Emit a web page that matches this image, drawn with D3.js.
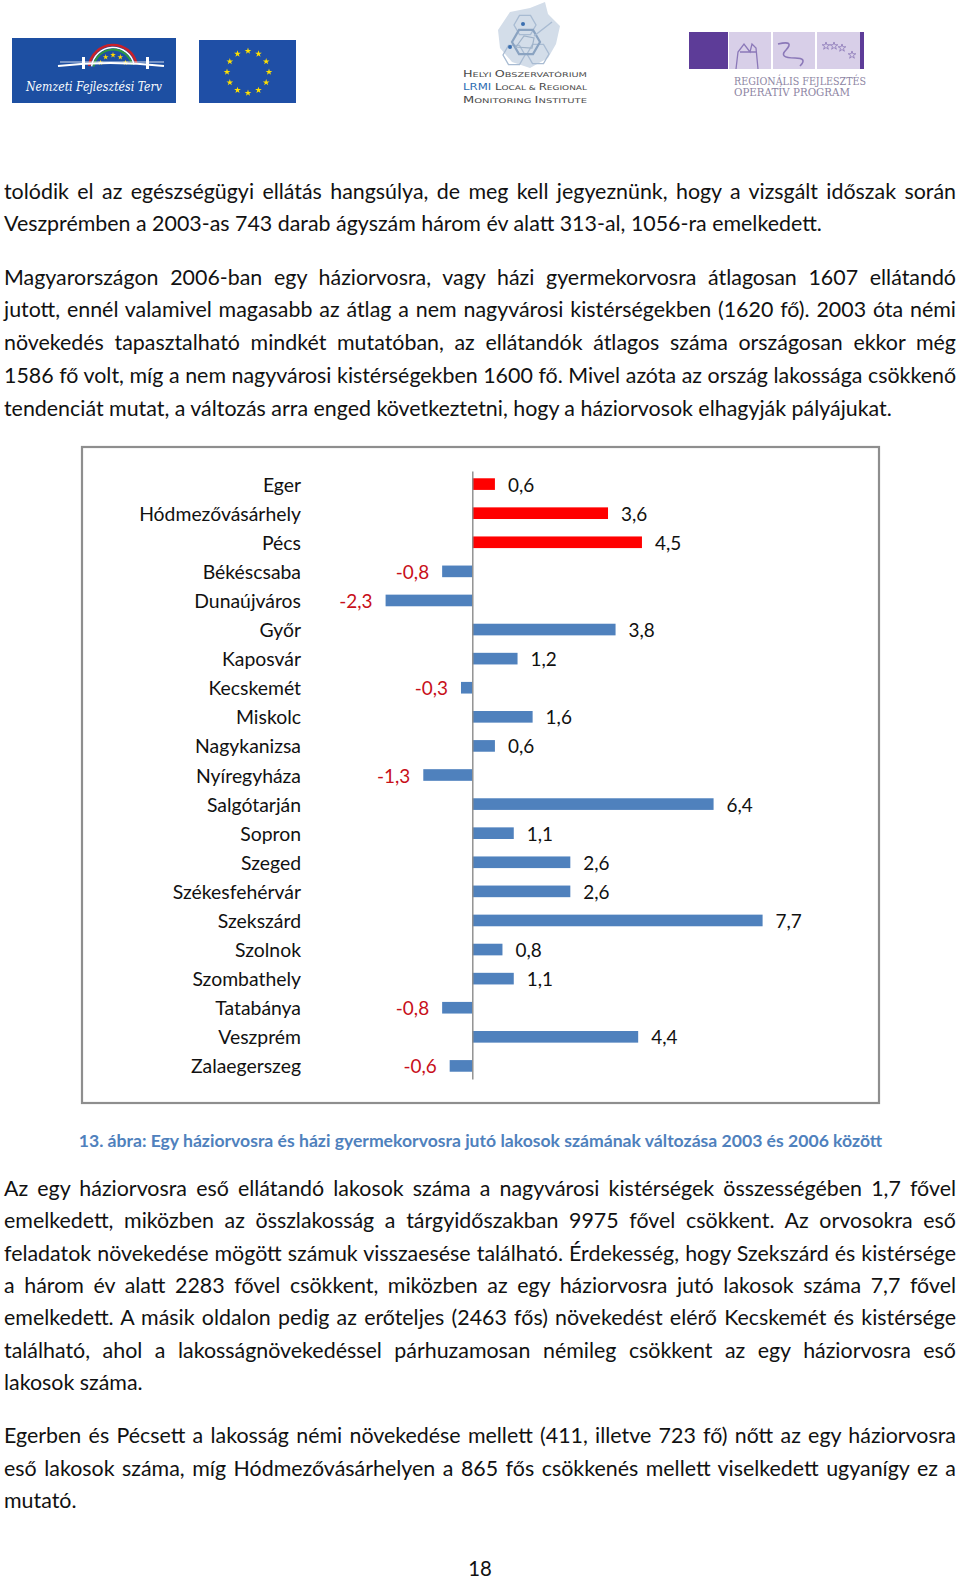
<!DOCTYPE html>
<html><head><meta charset="utf-8">
<script src="https://cdn.jsdelivr.net/npm/d3@7"></script>
<style>
html,body{margin:0;padding:0;background:#fff;}
body{width:960px;height:1582px;position:relative;overflow:hidden;color:#111;font-family:Lato,"Open Sans",sans-serif;}
.line{position:absolute;left:4px;width:952px;white-space:nowrap;}
</style></head><body>
<svg id="page" width="960" height="1582" style="position:absolute;left:0;top:0"></svg>
<div id="text"></div>
<script>
// ---------------- data ----------------
const cities = ["Eger","Hódmezővásárhely","Pécs","Békéscsaba","Dunaújváros","Győr","Kaposvár","Kecskemét","Miskolc","Nagykanizsa","Nyíregyháza","Salgótarján","Sopron","Szeged","Székesfehérvár","Szekszárd","Szolnok","Szombathely","Tatabánya","Veszprém","Zalaegerszeg"];
const values = [0.6,3.6,4.5,-0.8,-2.3,3.8,1.2,-0.3,1.6,0.6,-1.3,6.4,1.1,2.6,2.6,7.7,0.8,1.1,-0.8,4.4,-0.6];
const highlighted = ["Eger","Hódmezővásárhely","Pécs"];
const caption = "13. ábra: Egy háziorvosra és házi gyermekorvosra jutó lakosok számának változása 2003 és 2006 között";
const para1 = ["tolódik el az egészségügyi ellátás hangsúlya, de meg kell jegyeznünk, hogy a vizsgált időszak során",
"Veszprémben a 2003-as 743 darab ágyszám három év alatt 313-al, 1056-ra emelkedett."];
const para2 = ["Magyarországon 2006-ban egy háziorvosra, vagy házi gyermekorvosra átlagosan 1607 ellátandó",
"jutott, ennél valamivel magasabb az átlag a nem nagyvárosi kistérségekben (1620 fő). 2003 óta némi",
"növekedés tapasztalható mindkét mutatóban, az ellátandók átlagos száma országosan ekkor még",
"1586 fő volt, míg a nem nagyvárosi kistérségekben 1600 fő. Mivel azóta az ország lakossága csökkenő",
"tendenciát mutat, a változás arra enged következtetni, hogy a háziorvosok elhagyják pályájukat."];
const para3 = ["Az egy háziorvosra eső ellátandó lakosok száma a nagyvárosi kistérségek összességében 1,7 fővel",
"emelkedett, miközben az összlakosság a tárgyidőszakban 9975 fővel csökkent. Az orvosokra eső",
"feladatok növekedése mögött számuk visszaesése található. Érdekesség, hogy Szekszárd és kistérsége",
"a három év alatt 2283 fővel csökkent, miközben az egy háziorvosra jutó lakosok száma 7,7 fővel",
"emelkedett. A másik oldalon pedig az erőteljes (2463 fős) növekedést elérő Kecskemét és kistérsége",
"található, ahol a lakosságnövekedéssel párhuzamosan némileg csökkent az egy háziorvosra eső",
"lakosok száma."];
const para4 = ["Egerben és Pécsett a lakosság némi növekedése mellett (411, illetve 723 fő) nőtt az egy háziorvosra",
"eső lakosok száma, míg Hódmezővásárhelyen a 865 fős csökkenés mellett viselkedett ugyanígy ez a",
"mutató."];
const pageNumber = "18";

// ---------------- helpers ----------------
const FONT = "Lato";
const cv = document.createElement("canvas").getContext("2d");
function tw(t, size, weight="normal", style="normal", fam=FONT){ cv.font = `${style} ${weight} ${size}px ${fam}`; return cv.measureText(t).width; }
function fit(t, target, weight="normal"){ return 20*target/tw(t,20,weight); }

const svg = d3.select("#page");

// ---------------- body text ----------------
const bodySize = fit(para1[1], 819);
const LH = 30;
function paragraph(lines, y0, step){
  lines.forEach((t,i)=>{
    const last = i===lines.length-1;
    const cy = y0 + i*step;
    const w = tw(t, bodySize);
    let ls = 0;
    if(!last && w > 950) ls = (950 - w)/t.length;
    d3.select("#text").append("div").attr("class","line")
      .style("top", (cy - LH/2 - 0.134*bodySize + 3)+"px")
      .style("line-height", LH+"px")
      .style("font-size", bodySize+"px")
      .style("letter-spacing", ls+"px")
      .style("text-align", last ? "left" : "justify")
      .style("text-align-last", last ? "left" : "justify")
      .text(t);
  });
}
paragraph(para1, 190.7, 32.4);
paragraph(para2, 276.4, 32.8);
paragraph(para3, 1187.5, 32.45);
paragraph(para4, 1434.7, 32.75);

// caption
const capSize = fit(caption, 805, "bold");
svg.append("text").attr("x", 480.5).attr("y", 1140).attr("text-anchor","middle")
  .attr("dominant-baseline","central").attr("font-family",FONT).attr("font-weight","bold")
  .attr("font-size", capSize).attr("fill","#4F81BD").text(caption);
// page number
svg.append("text").attr("x", 480).attr("y", 1568).attr("text-anchor","middle")
  .attr("dominant-baseline","central").attr("font-family",FONT).attr("font-size", bodySize*0.95)
  .attr("fill","#111").text(pageNumber);

// ---------------- chart ----------------
svg.append("rect").attr("x",82).attr("y",447).attr("width",797).attr("height",656)
  .attr("fill","#fff").attr("stroke","#8e8e8e").attr("stroke-width",2.2);

const zeroX = 472.3, unit = 37.7;
const x = d3.scaleLinear().domain([-3, 9]).range([zeroX - 3*unit, zeroX + 9*unit]);
const y = d3.scaleBand().domain(cities).range([471, 1079]).paddingInner(0.6).paddingOuter(0.25);

const catSize = fit("Hódmezővásárhely", 162);
const valSize = fit("-2,3", 33.3);

const g = svg.append("g");
g.selectAll("rect.bar").data(cities).join("rect").attr("class","bar")
  .attr("x", (d,i)=> x(Math.min(0, values[i])))
  .attr("width", (d,i)=> Math.abs(x(values[i]) - x(0)))
  .attr("y", d=> y(d)).attr("height", y.bandwidth())
  .attr("fill", d=> highlighted.includes(d) ? "#FF0000" : "#4F81BD");

// axis (category axis at zero)
const axis = d3.axisLeft(y).tickSize(0).tickFormat("");
const ax = g.append("g").attr("transform",`translate(${x(0)},0)`).call(axis);
ax.select(".domain").attr("stroke","#8a8a8a").attr("stroke-width",1.4);

// category labels
g.selectAll("text.cat").data(cities).join("text").attr("class","cat")
  .attr("x", 301).attr("y", d=> y(d)+y.bandwidth()/2)
  .attr("text-anchor","end").attr("dominant-baseline","central")
  .attr("font-family",FONT).attr("font-size",catSize).attr("fill","#111").text(d=>d);

// value labels
const fmt = v => String(v).replace(".", ",").replace(/^(-?\d+)$/, "$1,0");
g.selectAll("text.val").data(cities).join("text").attr("class","val")
  .attr("x", (d,i)=> values[i] >= 0 ? x(values[i]) + 13 : x(values[i]) - 13)
  .attr("y", d=> y(d)+y.bandwidth()/2)
  .attr("text-anchor", (d,i)=> values[i] >= 0 ? "start" : "end")
  .attr("dominant-baseline","central")
  .attr("font-family",FONT).attr("font-size",valSize)
  .attr("fill", (d,i)=> values[i] >= 0 ? "#111" : "#C8101A")
  .text((d,i)=> fmt(values[i]));

// ---------------- logos ----------------
// Nemzeti Fejlesztési Terv
const l1 = svg.append("g");
l1.append("rect").attr("x",12).attr("y",38).attr("width",164).attr("height",65).attr("fill","#1d4fa2");
const arc = d3.arc();
[["#c8202a",24,2.6],["#ffffff",21.5,1.5],["#2f9a3e",19.5,1.8]].forEach(([c,r,w])=>{
  l1.append("path").attr("transform","translate(113,69)")
    .attr("d", arc({innerRadius:r-w/2, outerRadius:r+w/2, startAngle:-1.45, endAngle:1.35})).attr("fill",c);
});
const star = d3.symbol().type(d3.symbolStar);
d3.range(5).forEach(i=>{
  const a = -1.1 + i*0.55;
  l1.append("path").attr("d", star.size(10)()).attr("fill","#ffd800")
    .attr("transform",`translate(${113+14*Math.sin(a)},${69-14*Math.cos(a)})`);
});
l1.append("path").attr("d","M58,66 Q110,60 164,66").attr("stroke","#fff").attr("stroke-width",2).attr("fill","none");
l1.append("path").attr("d","M60,62 L164,62").attr("stroke","#fff").attr("stroke-width",0.8).attr("fill","none");
[82,146].forEach(xx=> l1.append("rect").attr("x",xx).attr("y",57).attr("width",3).attr("height",12).attr("fill","#fff"));
l1.append("text").attr("x",26).attr("y",91).attr("font-family","DejaVu Serif").attr("font-style","italic")
  .attr("font-size",12).attr("fill","#fff").attr("textLength",136).attr("lengthAdjust","spacingAndGlyphs").text("Nemzeti Fejlesztési Terv");

// EU flag
const eu = svg.append("g");
eu.append("rect").attr("x",199).attr("y",40).attr("width",97).attr("height",63).attr("fill","#1f4fa6");
d3.range(12).forEach(i=>{
  const a = i*Math.PI/6;
  eu.append("path").attr("d", star.size(14)()).attr("fill","#ffe000")
    .attr("transform",`translate(${248+21*Math.sin(a)},${72-21*Math.cos(a)})`);
});

// LRMI logo
const lr = svg.append("g");
lr.append("path").attr("d","M498,30 L510,12 L530,8 L545,2 L548,14 L560,26 L556,44 L548,58 L530,68 L512,62 L500,48 Z").attr("fill","#d3dde9");
const hex = (cx,cy,r)=> d3.range(6).map(k=>{const a=Math.PI/3*k; return [cx+r*Math.cos(a), cy+r*Math.sin(a)];});
const line = d3.line().curve(d3.curveLinearClosed);
[[525,25,11],[514,55,11],[538,54,11]].forEach(([cx,cy,r])=>
  lr.append("path").attr("d", line(hex(cx,cy,r))).attr("fill","none").attr("stroke","#a8bbd2").attr("stroke-width",1.3));
lr.append("path").attr("d", line(hex(526,42,14))).attr("fill","none").attr("stroke","#8aa3c1").attr("stroke-width",2.2);
lr.append("path").attr("d","M516,47 L524,36 L534,38 L532,48 Z").attr("fill","none").attr("stroke","#9fb2c8").attr("stroke-width",1.2);
lr.append("path").attr("d","M534,36 L552,22").attr("stroke","#a8bbd2").attr("stroke-width",1.5);
[[523,24],[510,47]].forEach(([cx,cy])=> lr.append("circle").attr("cx",cx).attr("cy",cy).attr("r",2).attr("fill","#3b6fb0"));
const lt = [[["H","ELYI "],["O","BSZERVATÓRIUM"]],[["LRMI","",1],[" L","OCAL & "],["R","EGIONAL"]],[["M","ONITORING "],["I","NSTITUTE"]]];
lt.forEach((parts,i)=>{
  const t = lr.append("text").attr("x",463).attr("y",77+i*13).attr("font-family","DejaVu Sans")
    .attr("font-size",8.5).attr("fill","#4a4a4a").attr("textLength",124).attr("lengthAdjust","spacingAndGlyphs");
  parts.forEach(p=>{
    t.append("tspan").attr("fill", p[2] ? "#2d6db3" : "#4a4a4a").text(p[0]);
    if(p[1]) t.append("tspan").attr("font-size",6.5).attr("fill","#4a4a4a").text(p[1]);
  });
});

// Regionális Fejlesztés OP logo
const rf = svg.append("g");
rf.append("rect").attr("x",689).attr("y",32).attr("width",39).attr("height",37).attr("fill","#5d3c98");
[[729,42],[773,42],[817,43]].forEach(([xx,w])=> rf.append("rect").attr("x",xx).attr("y",32).attr("width",w).attr("height",37).attr("fill","#d8cfe8"));
rf.append("rect").attr("x",860).attr("y",32).attr("width",4).attr("height",37).attr("fill","#5d3c98");
rf.append("path").attr("d","M736,69 L738,52 L744,44 L750,52 L752,44 L756,48 L758,69 M740,52 L756,52").attr("stroke","#8b78b8").attr("fill","none").attr("stroke-width",1.3);
rf.append("path").attr("d","M778,44 Q795,40 786,50 Q778,58 795,58 Q808,58 800,66").attr("stroke","#8b78b8").attr("fill","none").attr("stroke-width",1.6);
[[826,46],[834,46],[842,48],[852,55]].forEach(([cx,cy])=> rf.append("path").attr("d",star.size(18)()).attr("fill","none").attr("stroke","#8b78b8").attr("stroke-width",0.8).attr("transform",`translate(${cx},${cy})`));
rf.append("text").attr("x",734).attr("y",85).attr("font-family","DejaVu Serif").attr("font-size",10.5)
  .attr("fill","#8d85a3").attr("textLength",132).attr("lengthAdjust","spacingAndGlyphs").text("REGIONÁLIS FEJLESZTÉS");
rf.append("text").attr("x",734).attr("y",96).attr("font-family","DejaVu Serif").attr("font-size",10.5)
  .attr("fill","#8d85a3").attr("textLength",116).attr("lengthAdjust","spacingAndGlyphs").text("OPERATÍV PROGRAM");
</script>
</body></html>
